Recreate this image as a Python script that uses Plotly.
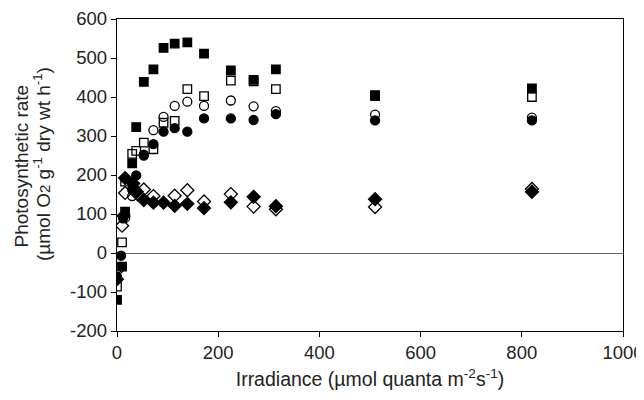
import plotly.graph_objects as go

# Irradiance (x) and photosynthetic rate (y) for six series
fs_x = [0, 10, 16, 30, 38, 53, 72, 92, 114, 139, 172, 225, 270, 314, 510, 820]
fs_y = [-120, -35, 106, 230, 323, 439, 471, 526, 537, 540, 511, 468, 444, 471, 405, 422]

os_x = [0, 10, 16, 30, 38, 53, 72, 92, 114, 139, 172, 225, 270, 314, 510, 820]
os_y = [-86, 27, 183, 254, 262, 283, 266, 334, 339, 420, 402, 442, 440, 420, 402, 400]

oc_x = [0, 16, 30, 53, 72, 92, 114, 139, 172, 225, 270, 314, 510, 820]
oc_y = [-40, 90, 146, 250, 315, 349, 377, 388, 377, 391, 376, 364, 355, 347]

fc_x = [0, 8, 12, 30, 38, 53, 72, 92, 114, 139, 172, 225, 270, 314, 510, 820]
fc_y = [-61, -7, 89, 163, 199, 252, 279, 311, 320, 311, 345, 345, 341, 356, 340, 340]

fd_x = [0, 13, 16, 32, 39, 53, 72, 92, 114, 139, 172, 225, 270, 314, 510, 820]
fd_y = [-67, 95, 192, 178, 157, 136, 129, 129, 121, 126, 115, 130, 144, 120, 138, 157]

od_x = [0, 10, 16, 42, 53, 72, 114, 139, 172, 225, 270, 314, 510, 820]
od_y = [-45, 70, 154, 149, 163, 146, 147, 161, 132, 151, 119, 112, 118, 164]

x_ticks = [0, 200, 400, 600, 800, 1000]
y_ticks = [-200, -100, 0, 100, 200, 300, 400, 500, 600]

y_title_1 = "Photosynthetic rate"
y_title_2 = "(µmol O<span style='font-size:15px'>2</span> g<sup>-1</sup> dry wt h<sup>-1</sup>)"
x_title = "Irradiance (µmol quanta m<sup>-2</sup>s<sup>-1</sup>)"

fig = go.Figure()

def add(x, y, symbol, size):
    fig.add_trace(go.Scatter(
        x=x, y=y, mode="markers", showlegend=False,
        marker=dict(symbol=symbol, size=size, color="black",
                    line=dict(color="black", width=1.3)),
    ))

add(od_x, od_y, "diamond-open", 10)
add(fd_x, fd_y, "diamond", 10)
add(oc_x, oc_y, "circle-open", 9)
add(fc_x, fc_y, "circle", 9)
add(os_x, os_y, "square-open", 8.5)
add(fs_x, fs_y, "square", 8.5)

font = dict(family="Liberation Sans, Arial, sans-serif", size=19.5, color="#222")
ytitle_font = dict(family="Liberation Sans, Arial, sans-serif", size=19, color="#222")
tick_font = dict(family="Liberation Sans, Arial, sans-serif", size=18.5, color="#222")

# The page body adds an 8 px offset; figure is sized to fill the rest of the 644x400 window
OFF = 8
W, H = 644 - OFF, 400 - OFF
L, R, T, B = 117 - OFF, 21, 19 - OFF, 69
pw, ph = W - L - R, H - T - B

fig.update_layout(
    width=W, height=H,
    margin=dict(l=L, r=R, t=T, b=B, autoexpand=False),
    paper_bgcolor="white", plot_bgcolor="white",
    font=font,
    xaxis=dict(
        range=[0, 1000], tickvals=x_ticks, ticktext=[str(v) for v in x_ticks],
        ticks="outside", ticklen=5, tickcolor="black", tickfont=tick_font,
        showline=True, linecolor="black", linewidth=1.3, mirror=True,
        showgrid=False, zeroline=False, automargin=False,
        ticklabeloverflow="allow",
        title=dict(text=x_title, standoff=10, font=font),
    ),
    yaxis=dict(
        range=[-200, 600], tickvals=y_ticks, ticktext=[str(v) for v in y_ticks],
        ticks="outside", ticklen=5, tickcolor="black", tickfont=tick_font,
        showline=True, linecolor="black", linewidth=1.3, mirror=True,
        showgrid=False, zeroline=True, zerolinecolor="#666", zerolinewidth=1.2,
        automargin=False,
    ),
    annotations=[
        dict(text=y_title_1, xref="paper", yref="paper",
             x=(20.5 - OFF - L) / pw, y=(H - B - (166 - OFF)) / ph, textangle=-90,
             xanchor="center", yanchor="middle", showarrow=False, font=ytitle_font),
        dict(text=y_title_2, xref="paper", yref="paper",
             x=(42 - OFF - L) / pw, y=(H - B - (164 - OFF)) / ph, textangle=-90,
             xanchor="center", yanchor="middle", showarrow=False, font=ytitle_font),
    ],
)

fig.write_html("out.html")
